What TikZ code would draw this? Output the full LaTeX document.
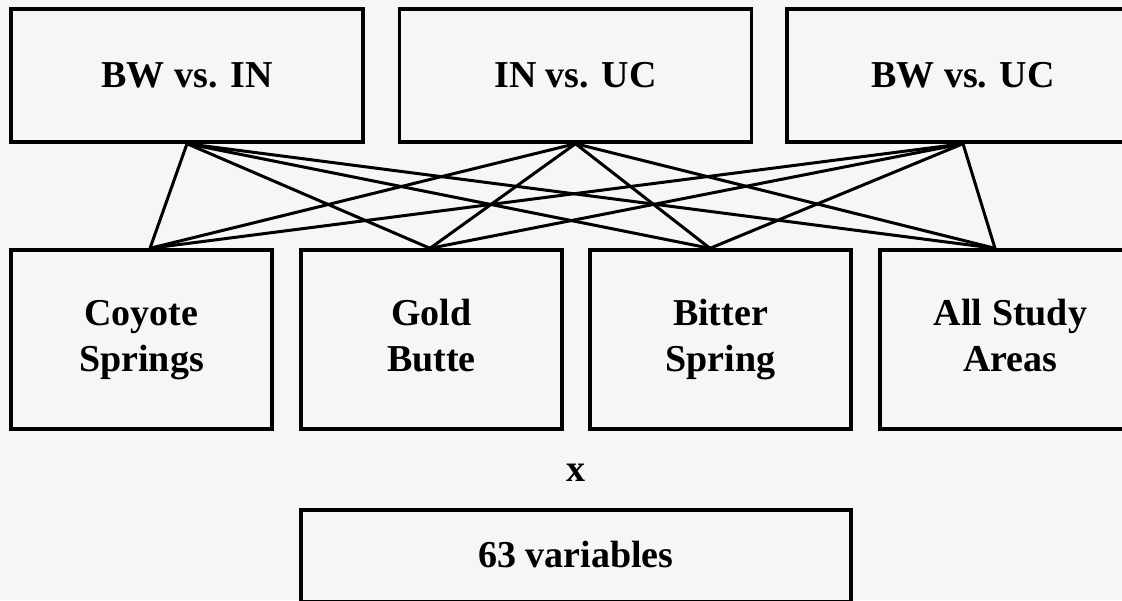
\documentclass[tikz,border=0pt]{standalone}
\usepackage{fontspec}
\setmainfont{Liberation Serif}
\definecolor{bgc}{HTML}{F6F6F4}
\begin{document}
\begin{tikzpicture}[x=1pt,y=-1pt,
  box/.style={draw=black, line width=3.4pt, fill=none, inner sep=0pt, align=center,
    font=\fontsize{38}{46}\selectfont\bfseries},
  topbox/.style={box, minimum width=352pt, minimum height=133pt},
  botbox/.style={box, minimum width=261pt, minimum height=179pt},
  link/.style={draw=black, line width=3pt}]
\fill[bgc] (0,0) rectangle (1122,600);
\useasboundingbox (0,0) rectangle (1122,600);
\node[topbox] (t1) at (187,75.5) {\strut\raisebox{-3pt}{BW vs. IN}};
\node[topbox] (t2) at (575.5,75.5) {\strut\raisebox{-3pt}{IN vs. UC}};
\node[topbox] (t3) at (963,75.5) {\strut\raisebox{-3pt}{BW vs. UC}};
\node[botbox] (b1) at (141.5,339.5) {\strut Coyote\\\strut Springs};
\node[botbox] (b2) at (431.5,339.5) {\strut Gold\\\strut Butte};
\node[botbox] (b3) at (720.5,339.5) {\strut Bitter\\\strut Spring};
\node[botbox] (b4) at (1010.5,339.5) {\strut All Study\\\strut Areas};
\node[font=\fontsize{38}{46}\selectfont\bfseries, inner sep=0pt] (xx) at (576,473) {x};
\node[box, minimum width=550pt, minimum height=92pt] (v) at (576,556) {\strut\raisebox{-2pt}{63 variables}};
\coordinate (p1) at (t1.south);
\coordinate (p2) at (t2.south);
\coordinate (p3) at (t3.south);
\coordinate (q1) at ([xshift=8.5pt]b1.north);
\coordinate (q2) at ([xshift=-1.5pt]b2.north);
\coordinate (q3) at ([xshift=-10.5pt]b3.north);
\coordinate (q4) at ([xshift=-15.5pt]b4.north);
\foreach \i in {1,2,3}{
  \foreach \j in {1,2,3,4}{
    \draw[link] (p\i) -- (q\j);
  }
}
\end{tikzpicture}
\end{document}
